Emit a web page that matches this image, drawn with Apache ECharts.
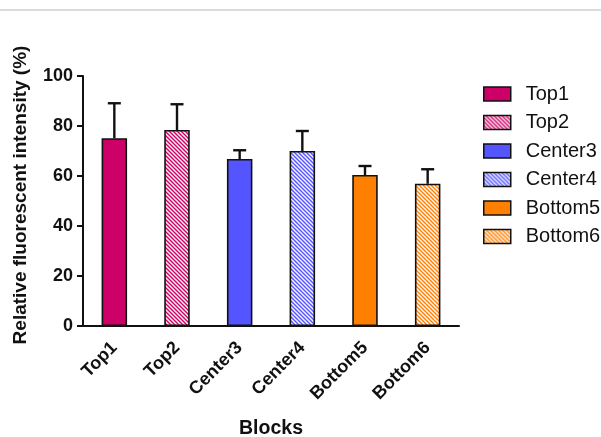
<!DOCTYPE html>
<html><head><meta charset="utf-8">
<script src="https://cdn.jsdelivr.net/npm/echarts@6/dist/echarts.min.js"></script>
<style>html,body{margin:0;padding:0;background:#fff}#c{width:601px;height:437px}</style>
</head><body><div id="c"></div>
<script>
const categories = ['Top1','Top2','Center3','Center4','Bottom5','Bottom6'];
const means = [75.1, 78.4, 66.8, 70.0, 60.4, 56.9];
const sds = [14.0, 10.3, 3.5, 8.0, 3.6, 5.8];
const baseColors = ['#CC0066','#CC0066','#5555FF','#5555FF','#FF8000','#FF8000'];
const hatched = [false, true, false, true, false, true];
const yTicks = { min: 0, max: 100, interval: 20 };

function hatch(color) {
  const s = 4;
  const cv = document.createElement('canvas');
  cv.width = s; cv.height = s;
  const ctx = cv.getContext('2d');
  ctx.fillStyle = color; ctx.fillRect(0, 0, s, s);
  ctx.strokeStyle = 'rgba(255,255,255,0.92)';
  ctx.lineWidth = 1.5;
  ctx.beginPath();
  ctx.moveTo(-1, -1); ctx.lineTo(s + 1, s + 1);
  ctx.moveTo(-1, s - 1); ctx.lineTo(1, s + 1);
  ctx.moveTo(s - 1, -1); ctx.lineTo(s + 1, 1);
  ctx.stroke();
  return { image: cv, repeat: 'repeat' };
}

const FONT = 'Arial, "Liberation Sans", sans-serif';
const chart = echarts.init(document.getElementById('c'), null, { renderer: 'canvas' });

const barSeries = categories.map((name, i) => ({
  name: name,
  type: 'bar',
  stack: 'all',
  barWidth: 25.5,
  data: categories.map((c, j) => j === i ? means[i] : '-'),
  itemStyle: {
    color: hatched[i] ? hatch(baseColors[i]) : baseColors[i],
    borderColor: '#111',
    borderWidth: 1.6
  },
  emphasis: { disabled: true },
  z: 3
}));

const errSeries = {
  type: 'custom',
  name: 'err',
  data: categories.map((c, i) => [i, means[i], means[i] + sds[i]]),
  renderItem: function (params, api) {
    const x = api.value(0);
    const lo = api.coord([x, api.value(1)]);
    const hi = api.coord([x, api.value(2)]);
    const hw = 6.5;
    return {
      type: 'group',
      children: [
        { type: 'line', shape: { x1: lo[0], y1: lo[1], x2: hi[0], y2: hi[1] }, style: { stroke: '#111', lineWidth: 2.4 } },
        { type: 'line', shape: { x1: hi[0] - hw, y1: hi[1], x2: hi[0] + hw, y2: hi[1] }, style: { stroke: '#111', lineWidth: 2.4 } }
      ]
    };
  },
  z: 2,
  silent: true
};

chart.setOption({
  animation: false,
  backgroundColor: '#fff',
  graphic: [
    { type: 'rect', shape: { x: 0, y: 9, width: 601, height: 2 }, style: { fill: '#dcdcdc' } },
    { type: 'text', x: 21, y: 195, rotation: Math.PI / 2,
      style: { text: 'Relative fluorescent intensity (%)', font: 'bold 19px ' + FONT, fill: '#111', align: 'center', verticalAlign: 'middle' } }
  ],
  legend: {
    data: categories,
    orient: 'vertical',
    left: 483,
    top: 84,
    padding: 0,
    itemWidth: 27,
    itemHeight: 14,
    itemGap: 8.5,
    icon: 'rect',
    textStyle: { fontFamily: FONT, fontSize: 20, color: '#111', padding: [0, 0, 0, 10] },
    itemStyle: { borderColor: '#111', borderWidth: 1.5 },
    selectedMode: false
  },
  grid: { left: 83, right: 142, top: 76, bottom: 111, containLabel: false, outerBoundsMode: 'none' },
  xAxis: {
    type: 'category',
    data: categories,
    name: 'Blocks',
    nameLocation: 'middle',
    nameGap: 93,
    nameTextStyle: { fontFamily: FONT, fontWeight: 'bold', fontSize: 19.5, color: '#111' },
    axisLine: { lineStyle: { color: '#111', width: 2 } },
    axisTick: { alignWithLabel: true, length: 6, lineStyle: { color: '#111', width: 2 } },
    axisLabel: { rotate: 45, margin: 19, fontFamily: FONT, fontWeight: 'bold', fontSize: 18, color: '#111', interval: 0 }
  },
  yAxis: {
    type: 'value',
    min: yTicks.min, max: yTicks.max, interval: yTicks.interval,
    axisLine: { show: true, lineStyle: { color: '#111', width: 2 } },
    axisTick: { show: true, length: 6, lineStyle: { color: '#111', width: 2 } },
    axisLabel: { margin: 10, fontFamily: FONT, fontWeight: 'bold', fontSize: 18, color: '#111' },
    splitLine: { show: false }
  },
  series: barSeries.concat([errSeries])
});
</script>
</body></html>
